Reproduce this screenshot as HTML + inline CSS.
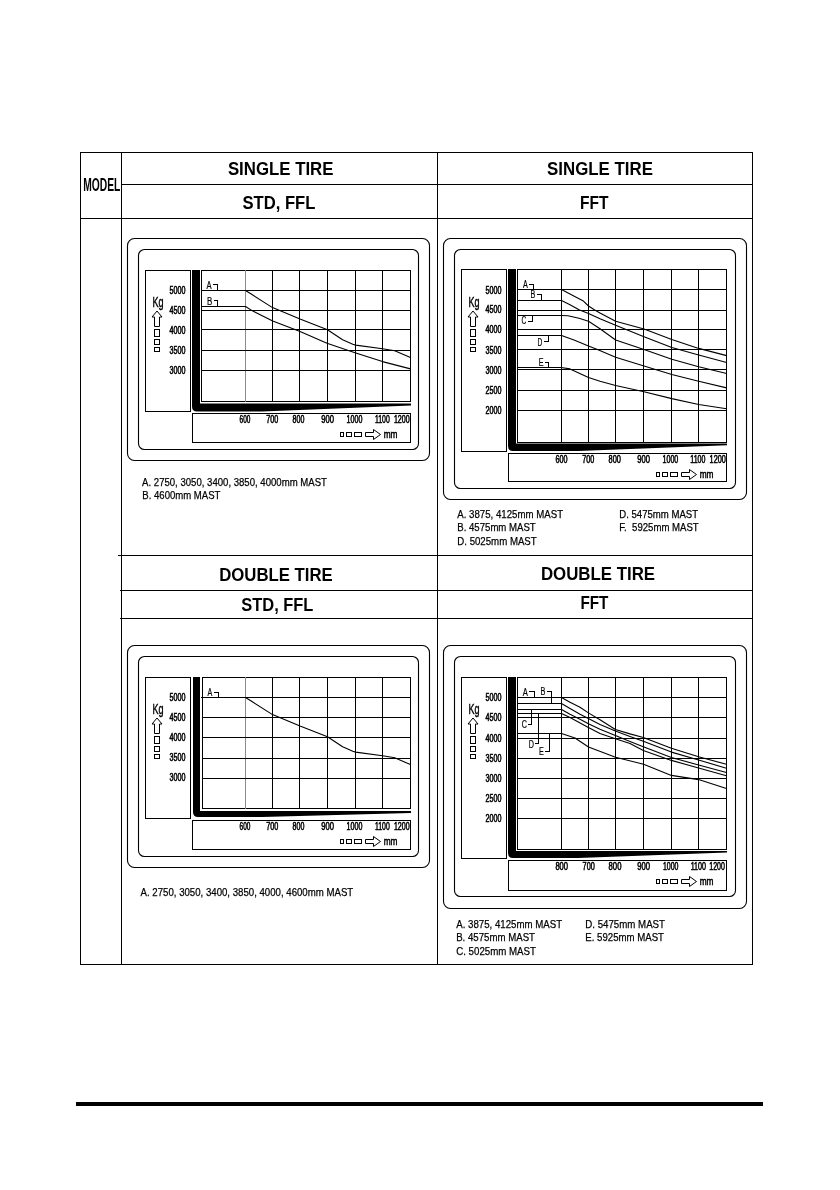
<!DOCTYPE html>
<html><head><meta charset="utf-8"><title>Load chart</title>
<style>
html,body{margin:0;padding:0;background:#fff;}
body{width:840px;height:1190px;overflow:hidden;}
svg{display:block;}
text{fill:#000;}
.hb{font-family:"Liberation Sans",Arial,sans-serif;font-weight:bold;}
.lg{font-family:"Liberation Sans",Arial,sans-serif;stroke:#000;stroke-width:0.25px;}
.tk{font-family:"Liberation Sans",Arial,sans-serif;stroke:#000;stroke-width:0.55px;}
.lb{font-family:"Liberation Sans",Arial,sans-serif;stroke:#000;stroke-width:0.2px;}
.kg{font-family:"Liberation Sans",Arial,sans-serif;stroke:#000;stroke-width:0.4px;}
.mm{font-family:"Liberation Sans",Arial,sans-serif;stroke:#000;stroke-width:0.5px;}
</style></head>
<body>
<svg width="840" height="1190" viewBox="0 0 840 1190">
<rect width="840" height="1190" fill="#fff"/>
<g shape-rendering="crispEdges">
<rect x="80" y="152" width="1" height="813" fill="#000"/>
<rect x="752" y="152" width="1" height="813" fill="#000"/>
<rect x="80" y="152" width="673" height="1" fill="#000"/>
<rect x="80" y="964" width="673" height="1" fill="#000"/>
<rect x="121" y="152" width="1" height="813" fill="#000"/>
<rect x="437" y="152" width="1" height="813" fill="#000"/>
<rect x="121" y="184" width="632" height="1" fill="#000"/>
<rect x="80" y="218" width="673" height="1" fill="#000"/>
<rect x="118" y="555" width="634" height="1" fill="#000"/>
<rect x="120" y="590" width="632" height="1" fill="#000"/>
<rect x="120" y="618" width="632" height="1" fill="#000"/>
</g>
<text x="83.20" y="190.9" font-size="17.5" class="hb" textLength="37.10" lengthAdjust="spacingAndGlyphs">MODEL</text>
<text x="227.90" y="174.7" font-size="18" class="hb" textLength="105.60" lengthAdjust="spacingAndGlyphs">SINGLE TIRE</text>
<text x="242.50" y="208.6" font-size="18" class="hb" textLength="72.90" lengthAdjust="spacingAndGlyphs">STD, FFL</text>
<text x="547.10" y="174.5" font-size="18" class="hb" textLength="105.80" lengthAdjust="spacingAndGlyphs">SINGLE TIRE</text>
<text x="579.90" y="208.7" font-size="18" class="hb" textLength="28.50" lengthAdjust="spacingAndGlyphs">FFT</text>
<text x="219.20" y="580.6" font-size="18" class="hb" textLength="113.50" lengthAdjust="spacingAndGlyphs">DOUBLE TIRE</text>
<text x="241.30" y="610.8" font-size="18" class="hb" textLength="72.10" lengthAdjust="spacingAndGlyphs">STD, FFL</text>
<text x="540.90" y="579.5" font-size="18" class="hb" textLength="114.20" lengthAdjust="spacingAndGlyphs">DOUBLE TIRE</text>
<text x="580.40" y="608.7" font-size="18" class="hb" textLength="28.00" lengthAdjust="spacingAndGlyphs">FFT</text>
<rect x="76" y="1102" width="687" height="4" fill="#000"/>
<rect x="127.5" y="238.5" width="302" height="222" rx="7" ry="7" fill="none" stroke="#000" stroke-width="1.1"/>
<rect x="138.5" y="249.5" width="280" height="200" rx="6" ry="6" fill="none" stroke="#000" stroke-width="1.1"/>
<g shape-rendering="crispEdges">
<rect x="145" y="270" width="46" height="1" fill="#000"/>
<rect x="145" y="411" width="46" height="1" fill="#000"/>
<rect x="145" y="270" width="1" height="142" fill="#000"/>
<rect x="190" y="270" width="1" height="142" fill="#000"/>
<rect x="192" y="413" width="219" height="1" fill="#000"/>
<rect x="192" y="442" width="219" height="1" fill="#000"/>
<rect x="192" y="413" width="1" height="30" fill="#000"/>
<rect x="410" y="413" width="1" height="30" fill="#000"/>
<rect x="201" y="270" width="210" height="1" fill="#000"/>
<rect x="201" y="401" width="210" height="1" fill="#000"/>
<rect x="201" y="270" width="1" height="132" fill="#000"/>
<rect x="410" y="270" width="1" height="132" fill="#000"/>
<rect x="245" y="270" width="1" height="132" fill="#8a8a8a"/>
<rect x="272" y="270" width="1" height="132" fill="#000"/>
<rect x="299" y="270" width="1" height="132" fill="#000"/>
<rect x="327" y="270" width="1" height="132" fill="#000"/>
<rect x="355" y="270" width="1" height="132" fill="#000"/>
<rect x="382" y="270" width="1" height="132" fill="#000"/>
<rect x="201" y="290" width="210" height="1" fill="#000"/>
<rect x="201" y="310" width="210" height="1" fill="#000"/>
<rect x="201" y="329" width="210" height="1" fill="#000"/>
<rect x="201" y="350" width="210" height="1" fill="#000"/>
<rect x="201" y="370" width="210" height="1" fill="#000"/>
</g>
<path d="M192 270 L200 270 L200 403.5 L411 403.5 L411 405.5 L262 411.5 L197 411.5 Q192 411.5 192 406.5 Z" fill="#000"/>
<path d="M201.0 290.5 L245.5 290.5 L252.0 294.5 L272.5 307.6 L300.0 319.1 L327.5 329.8 L342.6 339.8 L352.8 344.3 L355.6 345.1 L382.6 348.8 L394.7 350.8 L410.5 357.6" fill="none" stroke="#000" stroke-width="1.1" stroke-linejoin="round"/>
<path d="M201.0 306.5 L245.5 306.5 L252.9 311.1 L272.7 321.0 L299.5 331.2 L327.0 343.2 L355.0 352.8 L382.5 361.6 L410.5 368.9" fill="none" stroke="#000" stroke-width="1.1" stroke-linejoin="round"/>
<text x="206.60" y="289" font-size="11" class="lb" textLength="5.10" lengthAdjust="spacingAndGlyphs">A</text>
<path d="M212.5 284.5 L217.5 284.5 L217.5 290.5" fill="none" stroke="#000" stroke-width="1" shape-rendering="crispEdges"/>
<text x="207.10" y="305" font-size="11" class="lb" textLength="5.30" lengthAdjust="spacingAndGlyphs">B</text>
<path d="M213.5 300.5 L217.5 300.5 L217.5 306.5" fill="none" stroke="#000" stroke-width="1" shape-rendering="crispEdges"/>
<text x="169.60" y="293.8" font-size="10" class="tk" textLength="15.90" lengthAdjust="spacingAndGlyphs">5000</text>
<text x="169.60" y="313.7" font-size="10" class="tk" textLength="15.90" lengthAdjust="spacingAndGlyphs">4500</text>
<text x="169.60" y="333.5" font-size="10" class="tk" textLength="15.90" lengthAdjust="spacingAndGlyphs">4000</text>
<text x="169.60" y="354" font-size="10" class="tk" textLength="15.90" lengthAdjust="spacingAndGlyphs">3500</text>
<text x="169.60" y="374" font-size="10" class="tk" textLength="15.90" lengthAdjust="spacingAndGlyphs">3000</text>
<text x="152.50" y="306.8" font-size="15" class="kg" textLength="11.10" lengthAdjust="spacingAndGlyphs">Kg</text>
<path d="M157 311 L152 317 L154.5 317 L154.5 326.5 L159.5 326.5 L159.5 317 L162 317 Z" fill="none" stroke="#000" stroke-width="1"/>
<rect x="154.5" y="329.5" width="5" height="7" fill="none" stroke="#000" stroke-width="1"/>
<rect x="154.5" y="339.5" width="5" height="5" fill="none" stroke="#000" stroke-width="1"/>
<rect x="154.5" y="347.5" width="5" height="4" fill="none" stroke="#000" stroke-width="1"/>
<text x="239.60" y="422.6" font-size="10" class="tk" textLength="10.80" lengthAdjust="spacingAndGlyphs">600</text>
<text x="266.30" y="422.6" font-size="10" class="tk" textLength="12.00" lengthAdjust="spacingAndGlyphs">700</text>
<text x="292.60" y="422.6" font-size="10" class="tk" textLength="11.80" lengthAdjust="spacingAndGlyphs">800</text>
<text x="321.30" y="422.6" font-size="10" class="tk" textLength="12.70" lengthAdjust="spacingAndGlyphs">900</text>
<text x="346.60" y="422.6" font-size="10" class="tk" textLength="15.80" lengthAdjust="spacingAndGlyphs">1000</text>
<text x="375.00" y="422.6" font-size="10" class="tk" textLength="14.70" lengthAdjust="spacingAndGlyphs">1100</text>
<text x="393.90" y="422.6" font-size="10" class="tk" textLength="15.80" lengthAdjust="spacingAndGlyphs">1200</text>
<rect x="340.5" y="432.5" width="3.0" height="4" fill="none" stroke="#000" stroke-width="1"/>
<rect x="346.5" y="432.5" width="5.0" height="4" fill="none" stroke="#000" stroke-width="1"/>
<rect x="354.5" y="432.5" width="7.0" height="4" fill="none" stroke="#000" stroke-width="1"/>
<path d="M365.5 432.5 L373.5 432.5 L373.5 429.5 L380.5 434.5 L373.5 439.5 L373.5 436.5 L365.5 436.5 Z" fill="none" stroke="#000" stroke-width="1"/>
<text x="383.70" y="437.6" font-size="11" class="mm" textLength="13.80" lengthAdjust="spacingAndGlyphs">mm</text>
<text x="142.10" y="485.7" font-size="11.5" class="lg" textLength="184.80" lengthAdjust="spacingAndGlyphs">A. 2750, 3050, 3400, 3850, 4000mm MAST</text>
<text x="142.35" y="498.5" font-size="11.5" class="lg" textLength="78.05" lengthAdjust="spacingAndGlyphs">B. 4600mm MAST</text>
<rect x="443.5" y="238.5" width="303" height="261" rx="7" ry="7" fill="none" stroke="#000" stroke-width="1.1"/>
<rect x="454.5" y="249.5" width="281" height="239" rx="6" ry="6" fill="none" stroke="#000" stroke-width="1.1"/>
<g shape-rendering="crispEdges">
<rect x="461" y="269" width="46" height="1" fill="#000"/>
<rect x="461" y="451" width="46" height="1" fill="#000"/>
<rect x="461" y="269" width="1" height="183" fill="#000"/>
<rect x="506" y="269" width="1" height="183" fill="#000"/>
<rect x="508" y="453" width="219" height="1" fill="#000"/>
<rect x="508" y="481" width="219" height="1" fill="#000"/>
<rect x="508" y="453" width="1" height="29" fill="#000"/>
<rect x="726" y="453" width="1" height="29" fill="#000"/>
<rect x="517" y="269" width="210" height="1" fill="#000"/>
<rect x="517" y="442" width="210" height="1" fill="#000"/>
<rect x="517" y="269" width="1" height="174" fill="#000"/>
<rect x="726" y="269" width="1" height="174" fill="#000"/>
<rect x="561" y="269" width="1" height="174" fill="#000"/>
<rect x="588" y="269" width="1" height="174" fill="#000"/>
<rect x="615" y="269" width="1" height="174" fill="#000"/>
<rect x="643" y="269" width="1" height="174" fill="#000"/>
<rect x="671" y="269" width="1" height="174" fill="#000"/>
<rect x="698" y="269" width="1" height="174" fill="#000"/>
<rect x="517" y="289" width="210" height="1" fill="#000"/>
<rect x="517" y="310" width="210" height="1" fill="#000"/>
<rect x="517" y="329" width="210" height="1" fill="#000"/>
<rect x="517" y="349" width="210" height="1" fill="#000"/>
<rect x="517" y="369" width="210" height="1" fill="#000"/>
<rect x="517" y="390" width="210" height="1" fill="#000"/>
<rect x="517" y="410" width="210" height="1" fill="#000"/>
</g>
<path d="M508 269 L516 269 L516 443.5 L727 443.5 L727 445.3 L578 451 L513 451 Q508 451 508 446 Z" fill="#000"/>
<path d="M517.0 289.5 L561.5 289.5 L573.3 295.7 L582.9 300.7 L588.5 306.0 L594.3 309.8 L600.0 313.0 L615.6 321.3 L644.0 329.0 L671.8 339.5 L698.7 348.4 L726.6 355.6" fill="none" stroke="#000" stroke-width="1.1" stroke-linejoin="round"/>
<path d="M517.0 300.5 L561.5 300.5 L569.5 304.5 L579.0 309.8 L588.5 313.6 L600.0 318.8 L615.6 325.3 L644.0 336.7 L671.8 347.5 L698.7 355.0 L726.6 362.5" fill="none" stroke="#000" stroke-width="1.1" stroke-linejoin="round"/>
<path d="M517.0 315.5 L561.5 315.5 L568.0 315.7 L579.0 318.3 L588.5 321.2 L600.0 328.8 L615.6 340.0 L644.0 349.4 L671.8 359.3 L698.7 366.8 L726.6 373.5" fill="none" stroke="#000" stroke-width="1.1" stroke-linejoin="round"/>
<path d="M517.0 335.5 L561.5 335.5 L574.0 340.0 L588.5 346.0 L598.0 349.8 L615.6 357.3 L644.0 366.0 L671.8 374.5 L698.7 381.3 L726.6 387.9" fill="none" stroke="#000" stroke-width="1.1" stroke-linejoin="round"/>
<path d="M517.0 367.5 L561.0 367.5 L570.0 368.9 L588.5 377.5 L600.0 381.3 L615.6 385.5 L644.0 391.7 L671.8 398.6 L698.7 404.5 L726.6 408.7" fill="none" stroke="#000" stroke-width="1.1" stroke-linejoin="round"/>
<text x="522.90" y="288" font-size="11" class="lb" textLength="4.80" lengthAdjust="spacingAndGlyphs">A</text>
<path d="M528.5 284.5 L533.5 284.5 L533.5 289.5" fill="none" stroke="#000" stroke-width="1" shape-rendering="crispEdges"/>
<text x="530.60" y="297.7" font-size="11" class="lb" textLength="4.80" lengthAdjust="spacingAndGlyphs">B</text>
<path d="M536.5 294.5 L541.5 294.5 L541.5 300.5" fill="none" stroke="#000" stroke-width="1" shape-rendering="crispEdges"/>
<text x="521.60" y="323.8" font-size="11" class="lb" textLength="4.80" lengthAdjust="spacingAndGlyphs">C</text>
<path d="M527.5 321.5 L532.5 321.5 L532.5 315.5" fill="none" stroke="#000" stroke-width="1" shape-rendering="crispEdges"/>
<text x="537.60" y="345.5" font-size="11" class="lb" textLength="4.80" lengthAdjust="spacingAndGlyphs">D</text>
<path d="M543.5 341.5 L548.5 341.5 L548.5 335.5" fill="none" stroke="#000" stroke-width="1" shape-rendering="crispEdges"/>
<text x="538.80" y="365.6" font-size="11" class="lb" textLength="4.80" lengthAdjust="spacingAndGlyphs">E</text>
<path d="M544.5 362.5 L548.5 362.5 L548.5 367.5" fill="none" stroke="#000" stroke-width="1" shape-rendering="crispEdges"/>
<text x="485.60" y="293.5" font-size="10" class="tk" textLength="15.90" lengthAdjust="spacingAndGlyphs">5000</text>
<text x="485.60" y="313.3" font-size="10" class="tk" textLength="15.90" lengthAdjust="spacingAndGlyphs">4500</text>
<text x="485.60" y="332.8" font-size="10" class="tk" textLength="15.90" lengthAdjust="spacingAndGlyphs">4000</text>
<text x="485.60" y="354" font-size="10" class="tk" textLength="15.90" lengthAdjust="spacingAndGlyphs">3500</text>
<text x="485.60" y="374.1" font-size="10" class="tk" textLength="15.90" lengthAdjust="spacingAndGlyphs">3000</text>
<text x="485.60" y="394.1" font-size="10" class="tk" textLength="15.90" lengthAdjust="spacingAndGlyphs">2500</text>
<text x="485.60" y="414.1" font-size="10" class="tk" textLength="15.90" lengthAdjust="spacingAndGlyphs">2000</text>
<text x="468.50" y="306.8" font-size="15" class="kg" textLength="11.10" lengthAdjust="spacingAndGlyphs">Kg</text>
<path d="M473 311 L468 317 L470.5 317 L470.5 326.5 L475.5 326.5 L475.5 317 L478 317 Z" fill="none" stroke="#000" stroke-width="1"/>
<rect x="470.5" y="329.5" width="5" height="7" fill="none" stroke="#000" stroke-width="1"/>
<rect x="470.5" y="339.5" width="5" height="5" fill="none" stroke="#000" stroke-width="1"/>
<rect x="470.5" y="347.5" width="5" height="4" fill="none" stroke="#000" stroke-width="1"/>
<text x="555.40" y="462.8" font-size="10" class="tk" textLength="12.00" lengthAdjust="spacingAndGlyphs">600</text>
<text x="582.30" y="462.8" font-size="10" class="tk" textLength="12.00" lengthAdjust="spacingAndGlyphs">700</text>
<text x="608.60" y="462.8" font-size="10" class="tk" textLength="12.30" lengthAdjust="spacingAndGlyphs">800</text>
<text x="637.30" y="462.8" font-size="10" class="tk" textLength="12.70" lengthAdjust="spacingAndGlyphs">900</text>
<text x="662.50" y="462.8" font-size="10" class="tk" textLength="15.80" lengthAdjust="spacingAndGlyphs">1000</text>
<text x="690.30" y="462.8" font-size="10" class="tk" textLength="15.10" lengthAdjust="spacingAndGlyphs">1100</text>
<text x="709.60" y="462.8" font-size="10" class="tk" textLength="16.20" lengthAdjust="spacingAndGlyphs">1200</text>
<rect x="656.5" y="472.5" width="3.0" height="4" fill="none" stroke="#000" stroke-width="1"/>
<rect x="662.5" y="472.5" width="5.0" height="4" fill="none" stroke="#000" stroke-width="1"/>
<rect x="670.5" y="472.5" width="7.0" height="4" fill="none" stroke="#000" stroke-width="1"/>
<path d="M681.5 472.5 L689.5 472.5 L689.5 469.5 L696.5 474.5 L689.5 479.5 L689.5 476.5 L681.5 476.5 Z" fill="none" stroke="#000" stroke-width="1"/>
<text x="699.70" y="477.6" font-size="11" class="mm" textLength="13.80" lengthAdjust="spacingAndGlyphs">mm</text>
<text x="457.30" y="517.6" font-size="11.5" class="lg" textLength="105.80" lengthAdjust="spacingAndGlyphs">A. 3875, 4125mm MAST</text>
<text x="457.30" y="531.4" font-size="11.5" class="lg" textLength="78.40" lengthAdjust="spacingAndGlyphs">B. 4575mm MAST</text>
<text x="457.30" y="544.7" font-size="11.5" class="lg" textLength="79.40" lengthAdjust="spacingAndGlyphs">D. 5025mm MAST</text>
<text x="619.30" y="517.8" font-size="11.5" class="lg" textLength="78.80" lengthAdjust="spacingAndGlyphs">D. 5475mm MAST</text>
<text x="619.30" y="531.4" font-size="11.5" class="lg" textLength="79.40" lengthAdjust="spacingAndGlyphs">F.&#160; 5925mm MAST</text>
<rect x="127.5" y="645.5" width="302" height="222" rx="7" ry="7" fill="none" stroke="#000" stroke-width="1.1"/>
<rect x="138.5" y="656.5" width="280" height="200" rx="6" ry="6" fill="none" stroke="#000" stroke-width="1.1"/>
<g shape-rendering="crispEdges">
<rect x="145" y="677" width="46" height="1" fill="#000"/>
<rect x="145" y="818" width="46" height="1" fill="#000"/>
<rect x="145" y="677" width="1" height="142" fill="#000"/>
<rect x="190" y="677" width="1" height="142" fill="#000"/>
<rect x="192" y="820" width="219" height="1" fill="#000"/>
<rect x="192" y="849" width="219" height="1" fill="#000"/>
<rect x="192" y="820" width="1" height="30" fill="#000"/>
<rect x="410" y="820" width="1" height="30" fill="#000"/>
<rect x="202" y="677" width="209" height="1" fill="#000"/>
<rect x="202" y="808" width="209" height="1" fill="#000"/>
<rect x="202" y="677" width="1" height="132" fill="#000"/>
<rect x="410" y="677" width="1" height="132" fill="#000"/>
<rect x="245" y="677" width="1" height="132" fill="#8a8a8a"/>
<rect x="272" y="677" width="1" height="132" fill="#000"/>
<rect x="299" y="677" width="1" height="132" fill="#000"/>
<rect x="327" y="677" width="1" height="132" fill="#000"/>
<rect x="355" y="677" width="1" height="132" fill="#000"/>
<rect x="382" y="677" width="1" height="132" fill="#000"/>
<rect x="202" y="697" width="209" height="1" fill="#000"/>
<rect x="202" y="717" width="209" height="1" fill="#000"/>
<rect x="202" y="737" width="209" height="1" fill="#000"/>
<rect x="202" y="758" width="209" height="1" fill="#000"/>
<rect x="202" y="778" width="209" height="1" fill="#000"/>
</g>
<path d="M193 677 L200 677 L200 811 L411 811 L411 813 L262 817 L198 817 Q193 817 193 812 Z" fill="#000"/>
<path d="M201.0 697.5 L245.5 697.5 L252.0 701.5 L272.5 714.6 L300.0 726.1 L327.5 736.8 L342.6 746.8 L352.8 751.3 L355.6 752.1 L382.6 755.8 L394.7 757.8 L410.5 764.6" fill="none" stroke="#000" stroke-width="1.1" stroke-linejoin="round"/>
<text x="207.60" y="695.7" font-size="11" class="lb" textLength="4.80" lengthAdjust="spacingAndGlyphs">A</text>
<path d="M213.5 692.0 L218.0 692.0 L218.0 697.5" fill="none" stroke="#000" stroke-width="1" shape-rendering="crispEdges"/>
<text x="169.60" y="700.8" font-size="10" class="tk" textLength="15.90" lengthAdjust="spacingAndGlyphs">5000</text>
<text x="169.60" y="720.7" font-size="10" class="tk" textLength="15.90" lengthAdjust="spacingAndGlyphs">4500</text>
<text x="169.60" y="740.5" font-size="10" class="tk" textLength="15.90" lengthAdjust="spacingAndGlyphs">4000</text>
<text x="169.60" y="761" font-size="10" class="tk" textLength="15.90" lengthAdjust="spacingAndGlyphs">3500</text>
<text x="169.60" y="781" font-size="10" class="tk" textLength="15.90" lengthAdjust="spacingAndGlyphs">3000</text>
<text x="152.50" y="713.8" font-size="15" class="kg" textLength="11.10" lengthAdjust="spacingAndGlyphs">Kg</text>
<path d="M157 718 L152 724 L154.5 724 L154.5 733.5 L159.5 733.5 L159.5 724 L162 724 Z" fill="none" stroke="#000" stroke-width="1"/>
<rect x="154.5" y="736.5" width="5" height="7" fill="none" stroke="#000" stroke-width="1"/>
<rect x="154.5" y="746.5" width="5" height="5" fill="none" stroke="#000" stroke-width="1"/>
<rect x="154.5" y="754.5" width="5" height="4" fill="none" stroke="#000" stroke-width="1"/>
<text x="239.60" y="829.6" font-size="10" class="tk" textLength="10.80" lengthAdjust="spacingAndGlyphs">600</text>
<text x="266.30" y="829.6" font-size="10" class="tk" textLength="12.00" lengthAdjust="spacingAndGlyphs">700</text>
<text x="292.60" y="829.6" font-size="10" class="tk" textLength="11.80" lengthAdjust="spacingAndGlyphs">800</text>
<text x="321.30" y="829.6" font-size="10" class="tk" textLength="12.70" lengthAdjust="spacingAndGlyphs">900</text>
<text x="346.60" y="829.6" font-size="10" class="tk" textLength="15.80" lengthAdjust="spacingAndGlyphs">1000</text>
<text x="375.00" y="829.6" font-size="10" class="tk" textLength="14.70" lengthAdjust="spacingAndGlyphs">1100</text>
<text x="393.90" y="829.6" font-size="10" class="tk" textLength="15.80" lengthAdjust="spacingAndGlyphs">1200</text>
<rect x="340.5" y="839.5" width="3.0" height="4" fill="none" stroke="#000" stroke-width="1"/>
<rect x="346.5" y="839.5" width="5.0" height="4" fill="none" stroke="#000" stroke-width="1"/>
<rect x="354.5" y="839.5" width="7.0" height="4" fill="none" stroke="#000" stroke-width="1"/>
<path d="M365.5 839.5 L373.5 839.5 L373.5 836.5 L380.5 841.5 L373.5 846.5 L373.5 843.5 L365.5 843.5 Z" fill="none" stroke="#000" stroke-width="1"/>
<text x="383.70" y="844.6" font-size="11" class="mm" textLength="13.80" lengthAdjust="spacingAndGlyphs">mm</text>
<text x="140.60" y="896.4" font-size="11.5" class="lg" textLength="212.60" lengthAdjust="spacingAndGlyphs">A. 2750, 3050, 3400, 3850, 4000, 4600mm MAST</text>
<rect x="443.5" y="645.5" width="303" height="263" rx="7" ry="7" fill="none" stroke="#000" stroke-width="1.1"/>
<rect x="454.5" y="656.5" width="281" height="240" rx="6" ry="6" fill="none" stroke="#000" stroke-width="1.1"/>
<g shape-rendering="crispEdges">
<rect x="461" y="677" width="46" height="1" fill="#000"/>
<rect x="461" y="858" width="46" height="1" fill="#000"/>
<rect x="461" y="677" width="1" height="182" fill="#000"/>
<rect x="506" y="677" width="1" height="182" fill="#000"/>
<rect x="508" y="860" width="219" height="1" fill="#000"/>
<rect x="508" y="890" width="219" height="1" fill="#000"/>
<rect x="508" y="860" width="1" height="31" fill="#000"/>
<rect x="726" y="860" width="1" height="31" fill="#000"/>
<rect x="517" y="677" width="210" height="1" fill="#000"/>
<rect x="517" y="849" width="210" height="1" fill="#000"/>
<rect x="517" y="677" width="1" height="173" fill="#000"/>
<rect x="726" y="677" width="1" height="173" fill="#000"/>
<rect x="561" y="677" width="1" height="173" fill="#000"/>
<rect x="588" y="677" width="1" height="173" fill="#000"/>
<rect x="615" y="677" width="1" height="173" fill="#000"/>
<rect x="643" y="677" width="1" height="173" fill="#000"/>
<rect x="671" y="677" width="1" height="173" fill="#000"/>
<rect x="698" y="677" width="1" height="173" fill="#000"/>
<rect x="517" y="697" width="210" height="1" fill="#000"/>
<rect x="517" y="717" width="210" height="1" fill="#000"/>
<rect x="517" y="738" width="210" height="1" fill="#000"/>
<rect x="517" y="758" width="210" height="1" fill="#000"/>
<rect x="517" y="778" width="210" height="1" fill="#000"/>
<rect x="517" y="798" width="210" height="1" fill="#000"/>
<rect x="517" y="818" width="210" height="1" fill="#000"/>
</g>
<path d="M508 677 L516 677 L516 851 L727 851 L727 852.5 L578 858 L513 858 Q508 858 508 853 Z" fill="#000"/>
<path d="M517.0 697.5 L561.5 697.5 L570.0 702.3 L580.0 707.3 L588.4 712.9 L600.0 719.8 L615.4 729.5 L630.0 733.9 L643.3 737.5 L671.4 748.2 L698.6 756.8 L726.4 764.3" fill="none" stroke="#000" stroke-width="1.1" stroke-linejoin="round"/>
<path d="M517.0 703.5 L561.5 703.5 L570.0 708.4 L580.0 714.2 L588.4 718.5 L600.0 724.6 L615.4 731.0 L630.0 736.4 L643.3 741.2 L671.4 752.1 L698.6 760.0 L726.4 768.2" fill="none" stroke="#000" stroke-width="1.1" stroke-linejoin="round"/>
<path d="M517.0 709.5 L561.5 709.5 L570.0 714.3 L580.0 719.3 L588.4 723.8 L600.0 729.3 L615.4 735.5 L630.0 741.4 L643.3 746.7 L671.4 757.5 L698.6 765.0 L726.4 772.5" fill="none" stroke="#000" stroke-width="1.1" stroke-linejoin="round"/>
<path d="M517.0 713.5 L561.5 713.5 L570.0 717.5 L588.4 727.5 L600.0 733.5 L615.4 738.8 L630.0 743.6 L643.3 750.4 L671.4 760.4 L698.6 768.0 L726.4 775.7" fill="none" stroke="#000" stroke-width="1.1" stroke-linejoin="round"/>
<path d="M517.0 733.5 L561.5 733.5 L575.0 738.0 L588.5 747.0 L615.5 757.2 L643.6 764.2 L671.4 775.4 L698.6 779.6 L726.4 788.6" fill="none" stroke="#000" stroke-width="1.1" stroke-linejoin="round"/>
<text x="522.80" y="695.7" font-size="11" class="lb" textLength="5.10" lengthAdjust="spacingAndGlyphs">A</text>
<path d="M528.5 691.5 L534.0 691.5 L534.0 698.0" fill="none" stroke="#000" stroke-width="1" shape-rendering="crispEdges"/>
<text x="540.50" y="694.9" font-size="11" class="lb" textLength="4.90" lengthAdjust="spacingAndGlyphs">B</text>
<path d="M546.5 691.5 L551.0 691.5 L551.0 703.5" fill="none" stroke="#000" stroke-width="1" shape-rendering="crispEdges"/>
<text x="521.70" y="727.9" font-size="11" class="lb" textLength="5.20" lengthAdjust="spacingAndGlyphs">C</text>
<path d="M527.5 724.5 L531.5 724.5 L531.5 709.5" fill="none" stroke="#000" stroke-width="1" shape-rendering="crispEdges"/>
<text x="528.70" y="747.7" font-size="11" class="lb" textLength="5.20" lengthAdjust="spacingAndGlyphs">D</text>
<path d="M534.5 743.5 L538.5 743.5 L538.5 714.0" fill="none" stroke="#000" stroke-width="1" shape-rendering="crispEdges"/>
<text x="539.10" y="754.7" font-size="11" class="lb" textLength="4.80" lengthAdjust="spacingAndGlyphs">E</text>
<path d="M544.5 751.5 L549.0 751.5 L549.0 733.5" fill="none" stroke="#000" stroke-width="1" shape-rendering="crispEdges"/>
<text x="485.60" y="700.8" font-size="10" class="tk" textLength="15.90" lengthAdjust="spacingAndGlyphs">5000</text>
<text x="485.60" y="720.8" font-size="10" class="tk" textLength="15.90" lengthAdjust="spacingAndGlyphs">4500</text>
<text x="485.60" y="741.5" font-size="10" class="tk" textLength="15.90" lengthAdjust="spacingAndGlyphs">4000</text>
<text x="485.60" y="761.8" font-size="10" class="tk" textLength="15.90" lengthAdjust="spacingAndGlyphs">3500</text>
<text x="485.60" y="781.8" font-size="10" class="tk" textLength="15.90" lengthAdjust="spacingAndGlyphs">3000</text>
<text x="485.60" y="802.3" font-size="10" class="tk" textLength="15.90" lengthAdjust="spacingAndGlyphs">2500</text>
<text x="485.60" y="821.7" font-size="10" class="tk" textLength="15.90" lengthAdjust="spacingAndGlyphs">2000</text>
<text x="468.50" y="713.8" font-size="15" class="kg" textLength="11.10" lengthAdjust="spacingAndGlyphs">Kg</text>
<path d="M473 718 L468 724 L470.5 724 L470.5 733.5 L475.5 733.5 L475.5 724 L478 724 Z" fill="none" stroke="#000" stroke-width="1"/>
<rect x="470.5" y="736.5" width="5" height="7" fill="none" stroke="#000" stroke-width="1"/>
<rect x="470.5" y="746.5" width="5" height="5" fill="none" stroke="#000" stroke-width="1"/>
<rect x="470.5" y="754.5" width="5" height="4" fill="none" stroke="#000" stroke-width="1"/>
<text x="555.40" y="869.7" font-size="10" class="tk" textLength="12.60" lengthAdjust="spacingAndGlyphs">800</text>
<text x="582.60" y="869.7" font-size="10" class="tk" textLength="12.10" lengthAdjust="spacingAndGlyphs">700</text>
<text x="608.60" y="869.7" font-size="10" class="tk" textLength="12.80" lengthAdjust="spacingAndGlyphs">800</text>
<text x="637.30" y="869.7" font-size="10" class="tk" textLength="12.80" lengthAdjust="spacingAndGlyphs">900</text>
<text x="662.90" y="869.7" font-size="10" class="tk" textLength="15.50" lengthAdjust="spacingAndGlyphs">1000</text>
<text x="690.70" y="869.7" font-size="10" class="tk" textLength="15.30" lengthAdjust="spacingAndGlyphs">1100</text>
<text x="709.30" y="869.7" font-size="10" class="tk" textLength="15.50" lengthAdjust="spacingAndGlyphs">1200</text>
<rect x="656.5" y="879.5" width="3.0" height="4" fill="none" stroke="#000" stroke-width="1"/>
<rect x="662.5" y="879.5" width="5.0" height="4" fill="none" stroke="#000" stroke-width="1"/>
<rect x="670.5" y="879.5" width="7.0" height="4" fill="none" stroke="#000" stroke-width="1"/>
<path d="M681.5 879.5 L689.5 879.5 L689.5 876.5 L696.5 881.5 L689.5 886.5 L689.5 883.5 L681.5 883.5 Z" fill="none" stroke="#000" stroke-width="1"/>
<text x="699.70" y="884.6" font-size="11" class="mm" textLength="13.80" lengthAdjust="spacingAndGlyphs">mm</text>
<text x="456.20" y="927.7" font-size="11.5" class="lg" textLength="105.90" lengthAdjust="spacingAndGlyphs">A. 3875, 4125mm MAST</text>
<text x="456.20" y="941" font-size="11.5" class="lg" textLength="78.80" lengthAdjust="spacingAndGlyphs">B. 4575mm MAST</text>
<text x="456.20" y="954.6" font-size="11.5" class="lg" textLength="79.80" lengthAdjust="spacingAndGlyphs">C. 5025mm MAST</text>
<text x="585.30" y="927.7" font-size="11.5" class="lg" textLength="79.70" lengthAdjust="spacingAndGlyphs">D. 5475mm MAST</text>
<text x="585.30" y="941" font-size="11.5" class="lg" textLength="78.70" lengthAdjust="spacingAndGlyphs">E. 5925mm MAST</text>
</svg>
</body></html>
